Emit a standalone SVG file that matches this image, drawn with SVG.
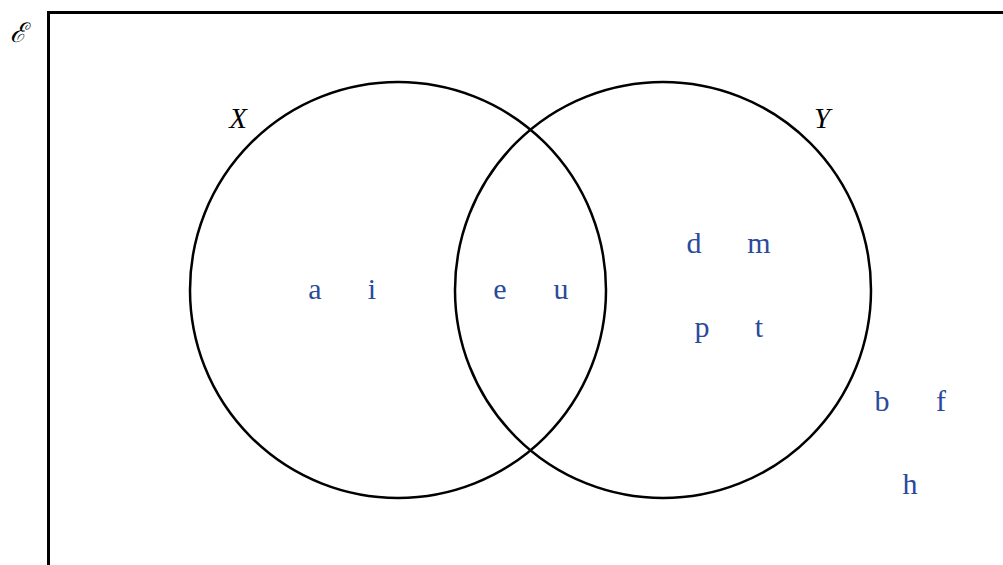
<svg xmlns="http://www.w3.org/2000/svg" width="1003" height="565" viewBox="0 0 1003 565">
<style>
.c{fill:none;stroke:#000;stroke-width:2.5}
.el{font-family:"Liberation Serif",serif;font-size:30px;fill:#2b4a9b;text-anchor:middle}
.lab{font-family:"Liberation Serif",serif;font-size:29px;font-style:italic;fill:#000;text-anchor:middle}
</style>
<rect width="1003" height="565" fill="#fff"/>
<g id="universe">
<polyline points="48.5,565 48.5,12.5 1003,12.5" fill="none" stroke="#000" stroke-width="3"/>
<text x="18" y="42" font-family="DejaVu Serif,serif" font-style="italic" font-size="27" text-anchor="middle">ℰ</text>
</g>
<g id="setX">
<circle class="c" cx="398" cy="290" r="208"/>
<text class="lab" x="238" y="128">X</text>
</g>
<g id="setY">
<circle class="c" cx="663" cy="290" r="208"/>
<text class="lab" x="822" y="128">Y</text>
</g>
<g id="elements">
<text class="el" x="315" y="299">a</text>
<text class="el" x="372" y="299">i</text>
<text class="el" x="500" y="299">e</text>
<text class="el" x="561" y="299">u</text>
<text class="el" x="694" y="253">d</text>
<text class="el" x="759" y="253">m</text>
<text class="el" x="702" y="337">p</text>
<text class="el" x="759" y="337">t</text>
<text class="el" x="882" y="411">b</text>
<text class="el" x="941" y="411">f</text>
<text class="el" x="910" y="494">h</text>
</g>
<g id="connectors"/>
</svg>
